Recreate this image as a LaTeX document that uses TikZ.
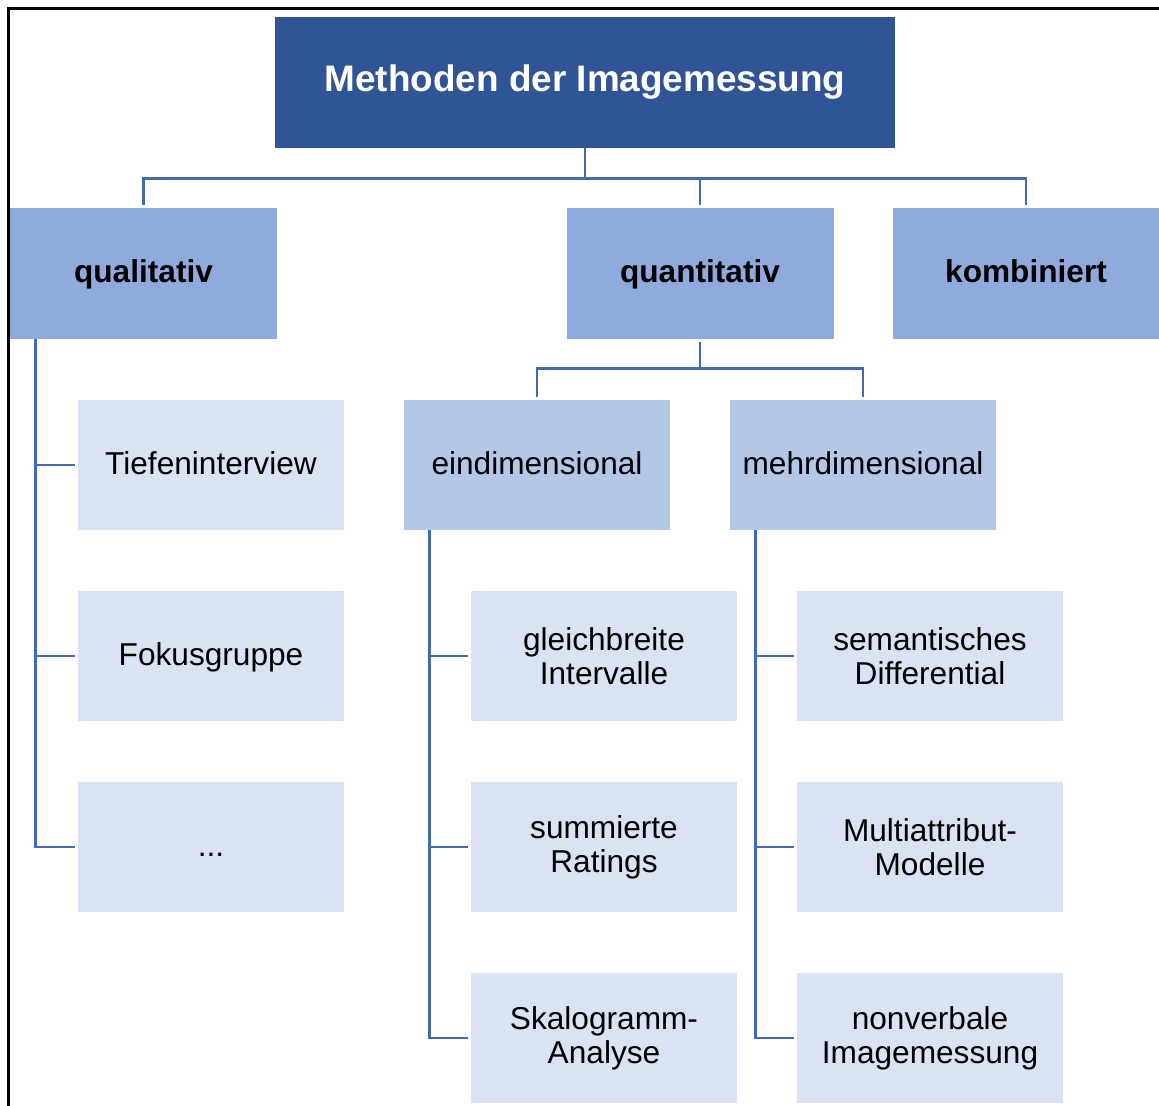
\documentclass[tikz,border=0pt]{standalone}
\usepackage{fontspec}
\setmainfont{Liberation Sans}
\usetikzlibrary{positioning}
\definecolor{rootblue}{HTML}{2F5597}
\definecolor{midblue}{HTML}{8FAADC}
\definecolor{lightblue}{HTML}{B4C7E7}
\definecolor{paleblue}{HTML}{DAE3F3}
\definecolor{linkblue}{HTML}{4169B8}
\tikzset{
    oneline/.style={text height=1.05em, text depth=0em},
    rootbox/.style={fill=rootblue, text=white, minimum width=12.4cm, minimum height=2.62cm,
        font=\fontsize{21}{24}\selectfont\bfseries, oneline},
    mainbox/.style={fill=midblue, minimum width=5.34cm, minimum height=2.62cm,
        font=\fontsize{18}{20}\selectfont\bfseries, oneline},
    subbox/.style={fill=lightblue, minimum width=5.32cm, minimum height=2.6cm, oneline},
    leafbox/.style={fill=paleblue, minimum width=5.32cm, minimum height=2.6cm}
}
\begin{document}
\begin{tikzpicture}
    \useasboundingbox (0,0) rectangle (23.18,-22.12);
    \draw[black, line width=1.2pt] (0.17,-22.12) -- (0.17,-0.17) -- (23.18,-0.17);

    \begin{scope}[every node/.style={inner sep=0pt, align=center, font=\fontsize{18}{19.5}\selectfont}]
        \node[rootbox] (root) at (11.7,-1.65) {Methoden der Imagemessung};
        \node[mainbox] (qual) at (2.87,-5.47) {qualitativ};
        \node[mainbox] (quant) at (14.0,-5.47) {quantitativ};
        \node[mainbox] (komb) at (20.52,-5.47) {kombiniert};
        \node[leafbox, oneline] (tief) at (4.22,-9.3) {Tiefeninterview};
        \node[leafbox, oneline] (fokus) at (4.22,-13.12) {Fokusgruppe};
        \node[leafbox, oneline] (etc) at (4.22,-16.94) {...};
        \node[subbox] (eind) at (10.74,-9.3) {eindimensional};
        \node[subbox] (mehr) at (17.26,-9.3) {mehrdimensional};
        \node[leafbox] (gleich) at (12.08,-13.12) {gleichbreite\\Intervalle};
        \node[leafbox] (summ) at (12.08,-16.94) {summierte\\Ratings};
        \node[leafbox] (skalo) at (12.08,-20.76) {Skalogramm-\\Analyse};
        \node[leafbox] (sem) at (18.6,-13.12) {semantisches\\Differential};
        \node[leafbox] (multi) at (18.6,-16.94) {Multiattribut-\\Modelle};
        \node[leafbox] (nonv) at (18.6,-20.76) {nonverbale\\Imagemessung};
    \end{scope}

    \begin{scope}[every path/.style={draw=linkblue, line width=1.6pt}]
        % top level
        \path (root.south) -- ++(0,-0.6) -| ([yshift=0.06cm]qual.north);
        \path (root.south) -- ++(0,-0.6) -| ([yshift=0.06cm]quant.north);
        \path (root.south) -- ++(0,-0.6) -| ([yshift=0.06cm]komb.north);
        % quantitativ
        \path ([yshift=-0.06cm]quant.south) -- ++(0,-0.52) -| ([yshift=0.06cm]eind.north);
        \path ([yshift=-0.06cm]quant.south) -- ++(0,-0.52) -| ([yshift=0.06cm]mehr.north);
        % spines
        \path ([xshift=0.52cm,yshift=-0.06cm]qual.south west) |- ([xshift=-0.06cm]etc.west);
        \path ([xshift=0.52cm]qual.south west) |- ([xshift=-0.06cm]tief.west);
        \path ([xshift=0.52cm]qual.south west) |- ([xshift=-0.06cm]fokus.west);
        \path ([xshift=0.52cm,yshift=-0.08cm]eind.south west) |- ([xshift=-0.06cm]skalo.west);
        \path ([xshift=0.52cm]eind.south west) |- ([xshift=-0.06cm]gleich.west);
        \path ([xshift=0.52cm]eind.south west) |- ([xshift=-0.06cm]summ.west);
        \path ([xshift=0.52cm,yshift=-0.08cm]mehr.south west) |- ([xshift=-0.06cm]nonv.west);
        \path ([xshift=0.52cm]mehr.south west) |- ([xshift=-0.06cm]sem.west);
        \path ([xshift=0.52cm]mehr.south west) |- ([xshift=-0.06cm]multi.west);
    \end{scope}
\end{tikzpicture}
\end{document}
